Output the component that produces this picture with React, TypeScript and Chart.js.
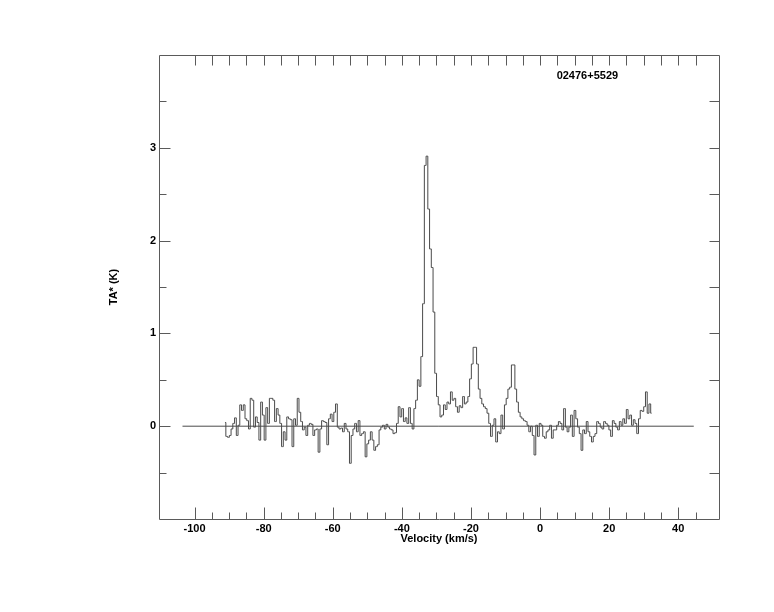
import React, { useEffect, useRef } from 'react';
import { Chart, registerables } from 'chart.js';

Chart.register(...registerables);

// ---- Data ----
const SOURCE_NAME = '02476+5529';
const X_TITLE = 'Velocity (km/s)';
const Y_TITLE = 'TA* (K)';

// channel grid of the spectrum (km/s)
const V_START = -91.2;
const CHANNEL_WIDTH = 0.504;

// antenna temperature per channel (K), split by velocity segment
const TA_SEG1 = [0.04, -0.11, -0.12, -0.1, -0.03, 0.03, 0.09, -0.1, 0.01, 0.23, 0.17, 0.23, 0.08, 0.06, -0.03, 0.3, 0.28, -0.01, 0.1, 0.04, -0.15, 0.26, 0.12, -0.15, 0.2, 0.03, 0.3, 0.3, 0.28, 0.05, 0.19, 0.12, 0.03, -0.22, -0.06, -0.15, 0.1, 0.08, 0.07, -0.22, 0.08, 0.01, 0.3];
const TA_SEG2 = [0.15, 0.05, -0.04, -0.01, -0.1, 0.01, 0.03, 0.02, -0.1, -0.04, -0.03, -0.28, -0.03, 0.06, 0.05, 0.04, -0.2, 0.08, 0.13, 0.05, 0.15, 0.24, -0.01, -0.03, -0.02, -0.06, 0.03, -0.03, -0.06, -0.4, -0.1, -0.03, 0.03, -0.06, 0.06, -0.1, -0.08, -0.06, -0.33, -0.19, -0.15, -0.06, -0.15, -0.26, -0.22, -0.2];
const TA_SEG3 = [-0.04, -0.01, 0.01, -0.03, 0.02, -0.01, -0.03, -0.04, -0.08, -0.07, 0.03, 0.21, 0.1, 0.19, 0.05, 0.09, 0.03, 0.2, 0.03, -0.03, 0.19, 0.28, 0.5, 0.43, 0.75];
const TA_PEAK = [1.32, 2.81, 2.91, 2.34, 1.91, 1.71, 1.23, 0.57];
const TA_SEG4 = [0.32, 0.23, 0.1, 0.12, 0.23, 0.18, 0.26, 0.24, 0.37, 0.28, 0.3, 0.21, 0.15, 0.22, 0.2, 0.32, 0.24, 0.26, 0.32, 0.51, 0.67, 0.85, 0.85, 0.67, 0.4];
const TA_SEG5 = [0.3, 0.24, 0.21, 0.19, 0.14, 0.03, -0.11, 0.01, 0.08, -0.17, -0.06, -0.08, 0.12, -0.03, 0.23, 0.3, 0.4, 0.42, 0.66, 0.66, 0.4, 0.26, 0.15, 0.1, 0.08, 0.06, 0.05, 0.01, -0.06, 0.0, -0.1, -0.31, 0.01, -0.11, 0.03, 0.01, -0.11, -0.13, -0.06, -0.04, 0.01, -0.13, -0.04, -0.04, 0.01, 0.05];
const TA_SEG6 = [0.03, -0.04, 0.19, -0.01, -0.06, -0.01, 0.12, -0.11, 0.17, 0.08, -0.01, -0.08, -0.26, -0.04, -0.08, 0.05, -0.06, -0.11, -0.17, -0.11, -0.08, 0.05, 0.03, -0.01, -0.03, 0.05, 0.03, 0.01, -0.04, -0.11, 0.06, 0.03, -0.01, -0.04, 0.05, 0.01, 0.08, 0.03, 0.18, 0.08, 0.12, 0.01, 0.07, 0.03, -0.08, 0.08, 0.17, 0.16, 0.21, 0.37, 0.14, 0.24, 0.14];

// zero baseline extent (km/s)
const BASELINE_X = [-103.5, 44.5];
const BASELINE_Y = [0, 0];

// axes
const X_MIN = -110.3;
const X_MAX = 51.8;
const Y_MIN = -1;
const Y_MAX = 4;
const X_TICKS = [-100, -95, -90, -85, -80, -75, -70, -65, -60, -55, -50, -45, -40, -35, -30, -25, -20, -15, -10, -5, 0, 5, 10, 15, 20, 25, 30, 35, 40, 45];
const X_LABELED = [-100, -80, -60, -40, -20, 0, 20, 40];
const Y_TICKS = [-0.5, 0, 0.5, 1, 1.5, 2, 2.5, 3, 3.5];
const Y_LABELED = [0, 1, 2, 3];

// source label position (data coords)
const SOURCE_LABEL_X = 13.7;
const SOURCE_LABEL_Y = 3.77;

const FONT_FAMILY = "'Liberation Sans', Arial, Helvetica, sans-serif";
const LINE_COLOR = '#4a4a4a';
const FRAME_COLOR = '#5a5a5a';

const TA_VALUES = [...TA_SEG1, ...TA_SEG2, ...TA_SEG3, ...TA_PEAK, ...TA_SEG4, ...TA_SEG5, ...TA_SEG6];

const framePlugin = {
  id: 'frameTicks',
  afterDraw(chart: any) {
    const { ctx, chartArea } = chart;
    const { left, right, top, bottom } = chartArea;
    const xs = chart.scales.x;
    const ys = chart.scales.y;
    ctx.save();
    ctx.strokeStyle = FRAME_COLOR;
    ctx.lineWidth = 1;
    ctx.beginPath();
    const L = Math.round(left) + 0.5;
    const R = Math.round(right) + 0.5;
    const T = Math.round(top) + 0.5;
    const B = Math.round(bottom) + 0.5;
    ctx.rect(L, T, R - L, B - T);
    for (const v of X_TICKS) {
      const px = Math.round(xs.getPixelForValue(v)) + 0.5;
      const lenB = X_LABELED.includes(v) ? 12 : 7;
      ctx.moveTo(px, B);
      ctx.lineTo(px, B - lenB);
      ctx.moveTo(px, T);
      ctx.lineTo(px, T + 10);
    }
    for (const v of Y_TICKS) {
      const py = Math.round(ys.getPixelForValue(v)) + 0.5;
      const lenL = Y_LABELED.includes(v) ? 11 : 7;
      ctx.moveTo(L, py);
      ctx.lineTo(L + lenL, py);
      ctx.moveTo(R, py);
      ctx.lineTo(R - 10, py);
    }
    ctx.stroke();

    ctx.fillStyle = '#000';
    ctx.font = `bold 11px ${FONT_FAMILY}`;
    ctx.textAlign = 'center';
    ctx.textBaseline = 'middle';
    ctx.fillText(SOURCE_NAME, xs.getPixelForValue(SOURCE_LABEL_X), ys.getPixelForValue(SOURCE_LABEL_Y));
    ctx.restore();
  },
};

export default function App() {
  const canvasRef = useRef<HTMLCanvasElement | null>(null);

  useEffect(() => {
    const canvas = canvasRef.current;
    if (!canvas) return;
    const spectrum = TA_VALUES.map((t, i) => ({ x: V_START + i * CHANNEL_WIDTH, y: t }));
    const baseline = BASELINE_X.map((x, i) => ({ x, y: BASELINE_Y[i] }));
    const tickFont = { family: FONT_FAMILY, size: 11, weight: 'bold' as const };

    const chart = new Chart(canvas, {
      type: 'line',
      data: {
        datasets: [
          {
            data: baseline,
            borderColor: LINE_COLOR,
            borderWidth: 1,
            pointRadius: 0,
            fill: false,
            xAxisID: 'x',
            yAxisID: 'y',
          },
          {
            data: spectrum,
            borderColor: LINE_COLOR,
            borderWidth: 1,
            pointRadius: 0,
            fill: false,
            stepped: 'middle',
            xAxisID: 'x',
            yAxisID: 'y',
          },
        ],
      },
      options: {
        animation: false,
        responsive: false,
        devicePixelRatio: 1,
        layout: { padding: 0 },
        plugins: {
          legend: { display: false },
          tooltip: { enabled: false },
          title: { display: false },
        },
        scales: {
          x: {
            type: 'linear',
            position: 'bottom',
            min: X_MIN,
            max: X_MAX,
            afterBuildTicks: (s: any) => {
              s.ticks = X_TICKS.map((v) => ({ value: v }));
            },
            afterFit: (s: any) => {
              s.height = 93;
            },
            grid: { display: false, drawTicks: false },
            border: { display: false },
            ticks: {
              autoSkip: false,
              maxRotation: 0,
              minRotation: 0,
              padding: 3,
              color: '#000',
              font: tickFont,
              callback: (v: any) => (X_LABELED.includes(Number(v)) ? String(v) : ''),
            },
            title: {
              display: true,
              text: X_TITLE,
              color: '#000',
              font: tickFont,
              padding: { top: 0, bottom: 66 },
            },
          },
          xTop: {
            type: 'linear',
            position: 'top',
            min: X_MIN,
            max: X_MAX,
            afterFit: (s: any) => {
              s.height = 55;
            },
            grid: { display: false, drawTicks: false },
            border: { display: false },
            ticks: { display: false },
          },
          y: {
            type: 'linear',
            position: 'left',
            min: Y_MIN,
            max: Y_MAX,
            afterBuildTicks: (s: any) => {
              s.ticks = Y_TICKS.map((v) => ({ value: v }));
            },
            afterFit: (s: any) => {
              s.width = 159;
            },
            grid: { display: false, drawTicks: false },
            border: { display: false },
            ticks: {
              autoSkip: false,
              padding: 3,
              color: '#000',
              font: tickFont,
              callback: (v: any) => (Y_LABELED.includes(Number(v)) ? String(v) : ''),
            },
            title: {
              display: true,
              text: Y_TITLE,
              color: '#000',
              font: tickFont,
              padding: { top: 107, bottom: 0 },
            },
          },
          yRight: {
            type: 'linear',
            position: 'right',
            min: Y_MIN,
            max: Y_MAX,
            afterFit: (s: any) => {
              s.width = 55;
            },
            grid: { display: false, drawTicks: false },
            border: { display: false },
            ticks: { display: false },
          },
        },
      },
      plugins: [framePlugin],
    });
    return () => chart.destroy();
  }, []);

  return (
    <div style={{ position: 'absolute', left: 0, top: 0, width: 774, height: 612, background: '#fff' }}>
      <canvas ref={canvasRef} width={774} height={612} style={{ display: 'block' }} />
    </div>
  );
}
